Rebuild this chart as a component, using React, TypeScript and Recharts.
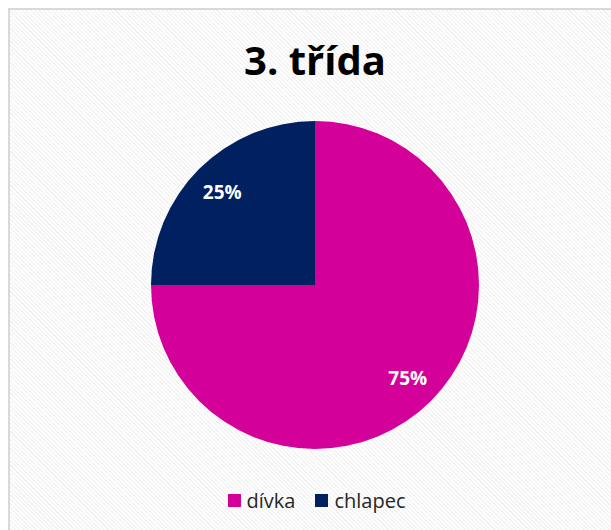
import { PieChart, Pie, Cell, Legend } from "recharts"

const CATEGORIES = ["dívka", "chlapec"]
const SHARES = [75, 25]
const COLORS = ["#D4009A", "#002060"]
const TITLE = "3. třída"

const data = CATEGORIES.map((name, i) => ({ name, value: SHARES[i] }))

const RAD = Math.PI / 180

function renderLabel(props: any) {
  const { cx, cy, midAngle, outerRadius, value } = props
  const r = outerRadius * 0.8
  const x = cx + r * Math.cos(-midAngle * RAD)
  const y = cy + r * Math.sin(-midAngle * RAD)
  return (
    <text
      x={x}
      y={y}
      fill="#FFFFFF"
      textAnchor="middle"
      dominantBaseline="central"
      style={{ fontFamily: "'Open Sans', sans-serif", fontWeight: 700, fontSize: 19 }}
    >
      {`${value}%`}
    </text>
  )
}

function renderLegend() {
  return (
    <div style={{ display: "flex", justifyContent: "center", gap: 20, fontFamily: "'Open Sans', sans-serif" }}>
      {data.map((d, i) => (
        <div key={d.name} style={{ display: "flex", alignItems: "center", gap: 6 }}>
          <span style={{ width: 13, height: 13, background: COLORS[i], display: "inline-block" }} />
          <span style={{ color: "#262626", fontSize: 20 }}>{d.name}</span>
        </div>
      ))}
    </div>
  )
}

export default function App() {
  return (
    <div
      style={{
        position: "fixed",
        left: 0,
        top: 0,
        width: 611,
        height: 530,
        overflow: "hidden",
        background: "#FFFFFF",
        fontFamily: "'Open Sans', sans-serif",
      }}
    >
      <div
        style={{
          position: "absolute",
          left: 8,
          top: 8,
          width: 640,
          height: 560,
          border: "2px solid #D9D9D9",
          background:
            "repeating-linear-gradient(45deg, #FFFFFF 0px, #FFFFFF 1.5px, #F4F4F4 1.5px, #F4F4F4 3px)",
        }}
      />
      <div
        style={{
          position: "absolute",
          left: 0,
          top: 32,
          width: 630,
          textAlign: "center",
          fontSize: 40,
          fontWeight: 700,
          color: "#000000",
          lineHeight: "56px",
        }}
      >
        {TITLE}
      </div>
      <div style={{ position: "absolute", left: 0, top: 0 }}>
        <PieChart width={611} height={530}>
          <Pie
            data={data}
            dataKey="value"
            nameKey="name"
            cx={310}
            cy={280}
            outerRadius={164}
            startAngle={90}
            endAngle={-270}
            stroke="none"
            label={renderLabel}
            labelLine={false}
            isAnimationActive={false}
          >
            {data.map((d, i) => (
              <Cell key={d.name} fill={COLORS[i]} />
            ))}
          </Pie>
          <Legend
            verticalAlign="bottom"
            align="center"
            content={renderLegend}
            wrapperStyle={{ left: 11, width: 611, bottom: 16 }}
          />
        </PieChart>
      </div>
    </div>
  )
}
